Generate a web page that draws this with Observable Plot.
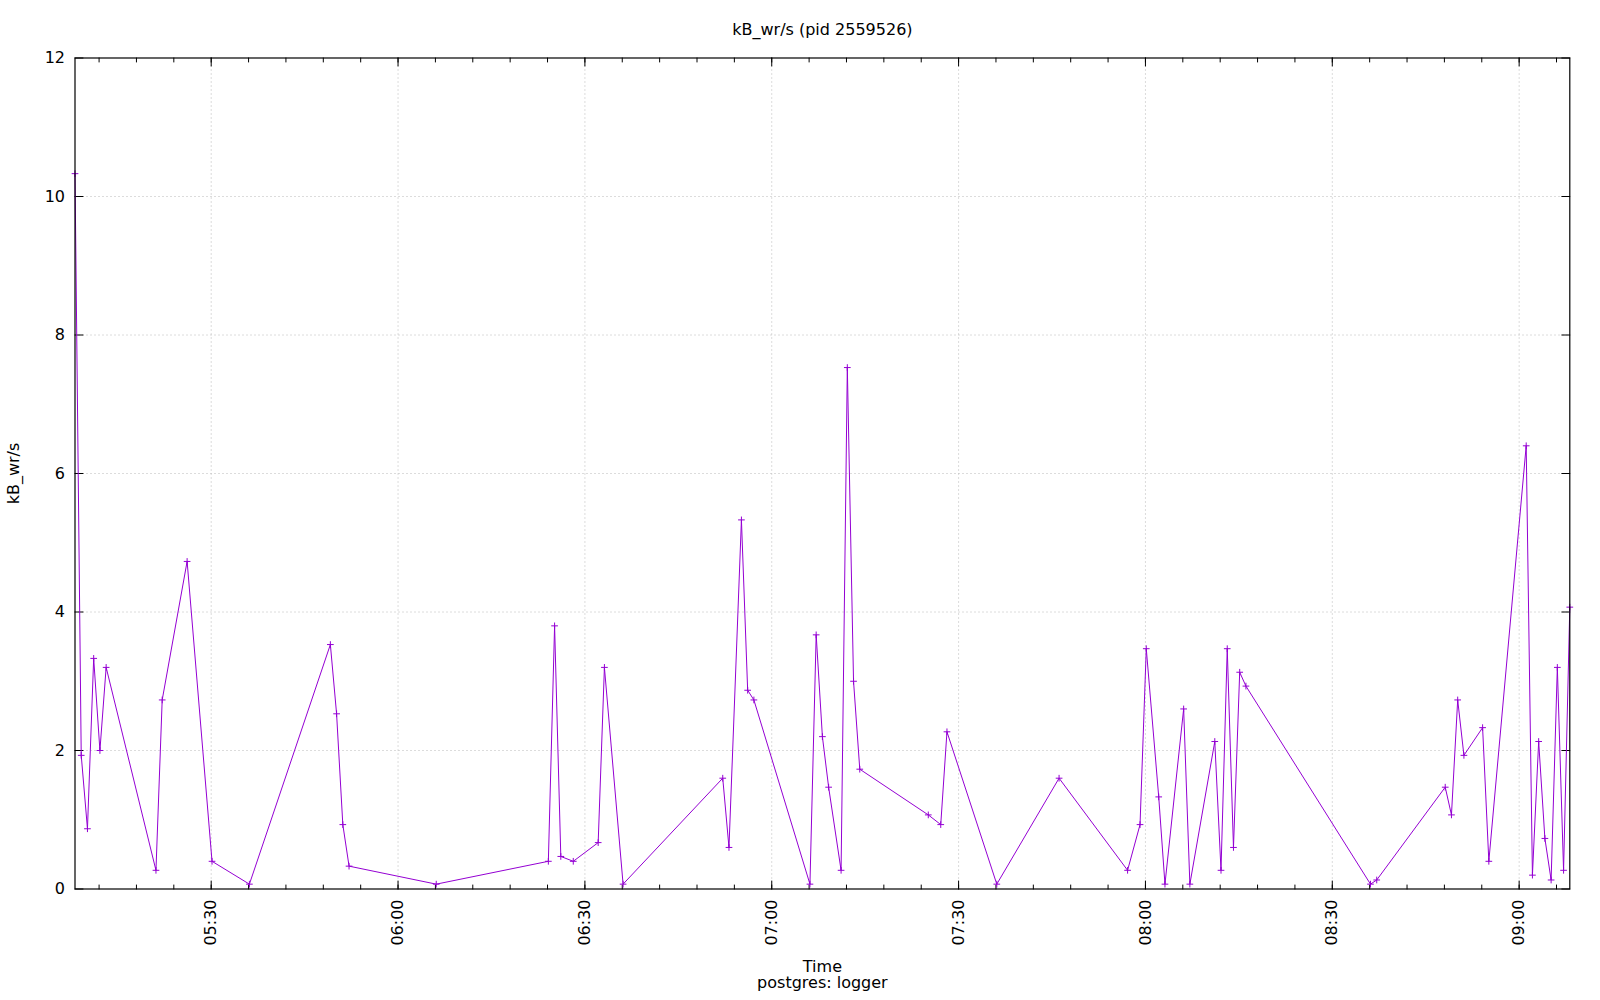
<!DOCTYPE html>
<html>
<head>
<meta charset="utf-8">
<script src="https://cdn.jsdelivr.net/npm/d3@7"></script>
<script src="https://cdn.jsdelivr.net/npm/@observablehq/plot@0.6"></script>
<style>
  html, body { margin: 0; padding: 0; background: #fff; }
  #chart svg { display: block; }
</style>
</head>
<body>
<div id="chart"></div>
<script>
// ---- data ----
const times = [
  "05:08:08","05:09:08","05:10:08","05:11:08","05:12:08","05:13:08","05:21:08","05:22:08","05:26:08","05:30:08",
  "05:36:08","05:49:08","05:50:08","05:51:08","05:52:08","06:06:08","06:24:08","06:25:08","06:26:08","06:28:08",
  "06:32:08","06:33:08","06:36:08","06:52:08","06:53:08","06:55:08","06:56:08","06:57:08","07:06:08","07:07:08",
  "07:08:08","07:09:08","07:11:08","07:12:08","07:13:08","07:14:08","07:25:08","07:27:08","07:28:08","07:36:08",
  "07:46:08","07:57:08","07:59:08","08:00:08","08:02:08","08:03:08","08:06:08","08:07:08","08:11:08","08:12:08",
  "08:13:08","08:14:08","08:15:08","08:16:08","08:36:08","08:37:08","08:48:08","08:49:08","08:50:08","08:51:08",
  "08:54:08","08:55:08","09:01:08","09:02:08","09:03:08","09:04:08","09:05:08","09:06:08","09:07:08","09:08:08"
];
const kbWr = [
  10.33, 1.93, 0.87, 3.33, 2.00, 3.20, 0.27, 2.73, 4.73, 0.40,
  0.07, 3.53, 2.53, 0.93, 0.33, 0.07, 0.40, 3.80, 0.47, 0.40,
  0.67, 3.20, 0.07, 1.60, 0.60, 5.33, 2.87, 2.73, 0.07, 3.67,
  2.20, 1.47, 0.27, 7.53, 3.00, 1.73, 1.07, 0.93, 2.27, 0.07,
  1.60, 0.27, 0.93, 3.47, 1.33, 0.07, 2.60, 0.07, 2.13, 0.27,
  3.47, 0.60, 3.13, 2.93, 0.07, 0.13, 1.47, 1.07, 2.73, 1.93,
  2.33, 0.40, 6.40, 0.20, 2.13, 0.73, 0.13, 3.20, 0.27, 4.07
];
const xTickLabels = ["05:30","06:00","06:30","07:00","07:30","08:00","08:30","09:00"];
const yTicks = [0, 2, 4, 6, 8, 10, 12];
const yGrid = [2, 4, 6, 8, 10];
const titleText = "kB_wr/s (pid 2559526)";
const yLabel = "kB_wr/s";
const xLabel = "Time";
const caption = "postgres: logger";

// ---- build ----
const parseT = d3.utcParse("%H:%M:%S");
const parseHM = d3.utcParse("%H:%M");
const fmt = d3.utcFormat("%H:%M");
const data = times.map((t, i) => ({time: parseT(t), value: kbWr[i]}));
const xDomain = [data[0].time, data[data.length - 1].time];
const majorTicks = xTickLabels.map(parseHM);
const minorTicks = d3.utcMinute.every(6).range(xDomain[0], xDomain[1]);

const purple = "#9400d3";
const font = "DejaVu Sans, Liberation Sans, sans-serif";
const gridStyle = {stroke: "#b8b8b8", strokeWidth: 1, strokeDasharray: "1,3"};
// plain straight tick (no arrow head)
const tickShape = {draw(context, l) { context.moveTo(0, 0); context.lineTo(0, -l); }};
const tickOpts = {anchor: "start", shape: tickShape, stroke: "#000", strokeWidth: 1};

const chart = Plot.plot({
  width: 1600,
  height: 1000,
  marginLeft: 74.5,
  marginRight: 30.7,
  marginTop: 57.5,
  marginBottom: 111.5,
  style: {fontFamily: font, fontSize: "16px", background: "#fff", color: "#000"},
  x: {type: "utc", domain: xDomain, axis: null},
  y: {type: "linear", domain: [0, 12], axis: null},
  marks: [
    // grid
    Plot.ruleX(majorTicks, {x: d => d, ...gridStyle}),
    Plot.ruleY(yGrid, {y: d => d, ...gridStyle}),
    // ticks (inward, mirrored)
    Plot.vector(yTicks, {y: d => d, frameAnchor: "left", rotate: 90, length: 8, ...tickOpts}),
    Plot.vector(yTicks, {y: d => d, frameAnchor: "right", rotate: -90, length: 8, ...tickOpts}),
    Plot.vector(minorTicks, {x: d => d, frameAnchor: "bottom", rotate: 0, length: 4, ...tickOpts}),
    Plot.vector(minorTicks, {x: d => d, frameAnchor: "top", rotate: 180, length: 4, ...tickOpts}),
    Plot.vector(majorTicks, {x: d => d, frameAnchor: "bottom", rotate: 0, length: 8, ...tickOpts}),
    Plot.vector(majorTicks, {x: d => d, frameAnchor: "top", rotate: 180, length: 8, ...tickOpts}),
    // tick labels
    Plot.text(yTicks, {y: d => d, text: d => String(d), frameAnchor: "left", textAnchor: "end", lineAnchor: "middle", dx: -10, fontSize: 16, fill: "#000"}),
    Plot.text(majorTicks, {x: d => d, text: d => fmt(d), frameAnchor: "bottom", rotate: -90, textAnchor: "end", lineAnchor: "middle", dy: 10.5, fontSize: 16, fill: "#000"}),
    // data
    Plot.line(data, {x: "time", y: "value", stroke: purple, strokeWidth: 1}),
    Plot.dot(data, {x: "time", y: "value", symbol: "plus", stroke: purple, strokeWidth: 1, r: 2.3}),
    // frame
    Plot.frame({stroke: "#000", strokeWidth: 1.2}),
    // titles
    Plot.text([titleText], {text: d => d, frameAnchor: "top", textAnchor: "middle", lineAnchor: "middle", dy: -27.9, fontSize: 16, fill: "#000"}),
    Plot.text([yLabel], {text: d => d, frameAnchor: "left", textAnchor: "middle", rotate: -90, lineAnchor: "middle", dx: -61.2, fontSize: 16, fill: "#000"}),
    Plot.text([xLabel], {text: d => d, frameAnchor: "bottom", textAnchor: "middle", lineAnchor: "middle", dy: 77.5, fontSize: 16, fill: "#000"}),
    Plot.text([caption], {text: d => d, frameAnchor: "bottom", textAnchor: "middle", lineAnchor: "middle", dy: 94, fontSize: 16, fill: "#000"})
  ]
});
document.getElementById("chart").appendChild(chart);
</script>
</body>
</html>
